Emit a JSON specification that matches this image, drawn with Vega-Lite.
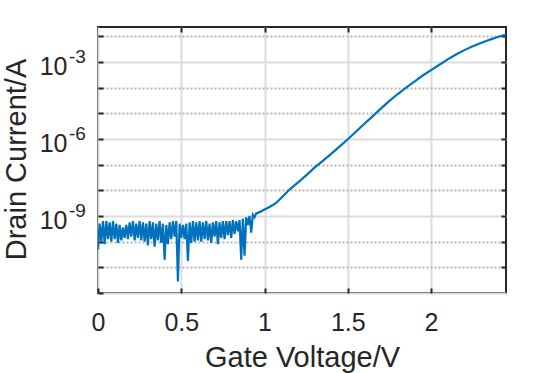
{
  "$schema": "https://vega.github.io/schema/vega-lite/v6.json",
  "autosize": {"type": "none"},
  "padding": {"left": 98, "top": 27, "right": 54, "bottom": 80},
  "width": 408,
  "height": 266,
  "background": "#ffffff",
  "config": {
    "view": {"stroke": "#262626", "strokeWidth": 2},
    "font": "Liberation Sans",
    "axis": {"labelFont": "Liberation Sans", "titleFont": "Liberation Sans", "labelColor": "#262626", "titleColor": "#262626", "titleFontWeight": "normal"}
  },
  "datasets": {
    "iv": [
      {"V": 0.00, "I": 5.01e-11}, {"V": 0.01, "I": 5.01e-10}, {"V": 0.02, "I": 1.0e-10}, {"V": 0.03, "I": 6.31e-10},
      {"V": 0.04, "I": 7.94e-11}, {"V": 0.05, "I": 6.31e-10}, {"V": 0.06, "I": 1.26e-10}, {"V": 0.07, "I": 5.62e-10},
      {"V": 0.08, "I": 1.0e-10}, {"V": 0.09, "I": 6.31e-10}, {"V": 0.10, "I": 1.26e-10}, {"V": 0.11, "I": 5.01e-10},
      {"V": 0.12, "I": 8.91e-11}, {"V": 0.13, "I": 4.47e-10}, {"V": 0.14, "I": 1.12e-10}, {"V": 0.15, "I": 3.55e-10},
      {"V": 0.16, "I": 1.41e-10}, {"V": 0.17, "I": 4.47e-10}, {"V": 0.18, "I": 1.26e-10}, {"V": 0.19, "I": 5.62e-10},
      {"V": 0.20, "I": 1.58e-10}, {"V": 0.21, "I": 6.31e-10}, {"V": 0.22, "I": 1.12e-10}, {"V": 0.23, "I": 5.01e-10},
      {"V": 0.24, "I": 1.41e-10}, {"V": 0.25, "I": 6.31e-10}, {"V": 0.26, "I": 1.12e-10}, {"V": 0.27, "I": 5.62e-10},
      {"V": 0.28, "I": 1.0e-10}, {"V": 0.29, "I": 5.01e-10}, {"V": 0.30, "I": 7.08e-11}, {"V": 0.31, "I": 6.31e-10},
      {"V": 0.32, "I": 1.26e-10}, {"V": 0.33, "I": 5.62e-10}, {"V": 0.34, "I": 6.31e-11}, {"V": 0.35, "I": 5.01e-10},
      {"V": 0.36, "I": 1.12e-10}, {"V": 0.37, "I": 6.31e-10}, {"V": 0.38, "I": 8.91e-11}, {"V": 0.39, "I": 5.01e-10},
      {"V": 0.40, "I": 2.0e-11}, {"V": 0.41, "I": 4.47e-10}, {"V": 0.42, "I": 7.94e-11}, {"V": 0.43, "I": 5.62e-10},
      {"V": 0.44, "I": 1.26e-10}, {"V": 0.45, "I": 6.31e-10}, {"V": 0.46, "I": 1.58e-10}, {"V": 0.47, "I": 6.31e-10},
      {"V": 0.48, "I": 2.82e-12}, {"V": 0.49, "I": 5.01e-10}, {"V": 0.50, "I": 1.41e-10}, {"V": 0.51, "I": 4.47e-10},
      {"V": 0.52, "I": 1.26e-10}, {"V": 0.53, "I": 5.01e-10}, {"V": 0.54, "I": 1.78e-11}, {"V": 0.55, "I": 5.62e-10},
      {"V": 0.56, "I": 8.91e-11}, {"V": 0.57, "I": 6.31e-10}, {"V": 0.58, "I": 1.0e-10}, {"V": 0.59, "I": 5.62e-10},
      {"V": 0.60, "I": 1.12e-10}, {"V": 0.61, "I": 6.31e-10}, {"V": 0.62, "I": 1.0e-10}, {"V": 0.63, "I": 5.62e-10},
      {"V": 0.64, "I": 1.26e-10}, {"V": 0.65, "I": 6.31e-10}, {"V": 0.66, "I": 1.12e-10}, {"V": 0.67, "I": 5.01e-10},
      {"V": 0.68, "I": 8.91e-11}, {"V": 0.69, "I": 5.62e-10}, {"V": 0.70, "I": 1.58e-10}, {"V": 0.71, "I": 6.31e-10},
      {"V": 0.72, "I": 7.94e-11}, {"V": 0.73, "I": 5.62e-10}, {"V": 0.74, "I": 1.41e-10}, {"V": 0.75, "I": 6.31e-10},
      {"V": 0.76, "I": 1.26e-10}, {"V": 0.77, "I": 6.31e-10}, {"V": 0.78, "I": 1.78e-10}, {"V": 0.79, "I": 6.31e-10},
      {"V": 0.80, "I": 1.41e-10}, {"V": 0.81, "I": 7.08e-10}, {"V": 0.82, "I": 2.0e-10}, {"V": 0.83, "I": 6.31e-10},
      {"V": 0.84, "I": 2.51e-10}, {"V": 0.85, "I": 7.08e-10}, {"V": 0.86, "I": 2.0e-11}, {"V": 0.87, "I": 7.94e-10},
      {"V": 0.88, "I": 2.82e-11}, {"V": 0.89, "I": 8.91e-10}, {"V": 0.90, "I": 4.47e-10}, {"V": 0.91, "I": 1.0e-9},
      {"V": 0.92, "I": 2.24e-10}, {"V": 0.93, "I": 1.12e-9}, {"V": 0.94, "I": 8.91e-10}, {"V": 0.95, "I": 1.26e-9},
      {"V": 0.97, "I": 1.41e-9}, {"V": 1.00, "I": 1.78e-9}, {"V": 1.03, "I": 2.24e-9}, {"V": 1.07, "I": 3.24e-9},
      {"V": 1.10, "I": 5.01e-9}, {"V": 1.15, "I": 1.07e-8}, {"V": 1.20, "I": 2.0e-8}, {"V": 1.25, "I": 3.80e-8},
      {"V": 1.30, "I": 7.59e-8}, {"V": 1.35, "I": 1.41e-7}, {"V": 1.40, "I": 2.63e-7}, {"V": 1.45, "I": 5.01e-7},
      {"V": 1.50, "I": 9.77e-7}, {"V": 1.55, "I": 1.95e-6}, {"V": 1.60, "I": 3.89e-6}, {"V": 1.65, "I": 7.76e-6},
      {"V": 1.70, "I": 1.55e-5}, {"V": 1.75, "I": 3.02e-5}, {"V": 1.80, "I": 5.62e-5}, {"V": 1.85, "I": 1.0e-4},
      {"V": 1.90, "I": 1.70e-4}, {"V": 1.95, "I": 2.95e-4}, {"V": 2.00, "I": 4.79e-4}, {"V": 2.05, "I": 7.76e-4},
      {"V": 2.10, "I": 1.26e-3}, {"V": 2.15, "I": 1.95e-3}, {"V": 2.20, "I": 2.88e-3}, {"V": 2.25, "I": 4.07e-3},
      {"V": 2.30, "I": 5.50e-3}, {"V": 2.35, "I": 7.24e-3}, {"V": 2.40, "I": 9.33e-3}, {"V": 2.45, "I": 1.17e-2}
    ],
    "exps": [
      {"x0": 0, "v": 0.001, "e": "-3"},
      {"x0": 0, "v": 0.000001, "e": "-6"},
      {"x0": 0, "v": 0.000000001, "e": "-9"}
    ]
  },
  "layer": [
    {
      "data": {"name": "iv"},
      "mark": {"type": "line", "color": "#0072BD", "strokeWidth": 2.2, "clip": true},
      "encoding": {
        "x": {
          "field": "V", "type": "quantitative",
          "scale": {"domain": [0, 2.45], "nice": false, "zero": false},
          "axis": {
            "orient": "bottom",
            "values": [0, 0.5, 1, 1.5, 2],
            "format": "~g",
            "title": "Gate Voltage/V",
            "titleFontSize": 29,
            "titlePadding": 8,
            "labelFontSize": 25,
            "labelPadding": 22,
            "labelFlush": false,
            "domain": false,
            "tickSize": -5,
            "tickColor": "#262626",
            "tickWidth": 2,
            "grid": true,
            "gridColor": "#dcdcdc",
            "gridWidth": 2
          }
        },
        "y": {
          "field": "I", "type": "quantitative",
          "scale": {"type": "log", "domain": [1e-12, 0.0229], "nice": false},
          "axis": {
            "orient": "left",
            "values": [1e-12, 1e-11, 1e-10, 1e-9, 1e-8, 1e-7, 1e-6, 1e-5, 1e-4, 1e-3, 1e-2],
            "labelExpr": "(round(log(datum.value)/LN10) % 3 == 0 && datum.value > 1e-11 && datum.value < 1e-2) ? '10' : ''",
            "labelFontSize": 25,
            "labelPadding": 36,
            "labelOffset": 5,
            "labelFlush": false,
            "labelOverlap": false,
            "title": "Drain Current/A",
            "titleFontSize": 29,
            "titleAngle": 270,
            "titleX": -73,
            "titleY": 132,
            "titleAlign": "center",
            "titleBaseline": "alphabetic",
            "domain": false,
            "tickSize": -5,
            "tickColor": "#262626",
            "tickWidth": 2,
            "grid": true,
            "gridWidth": 2,
            "gridColor": {"condition": {"test": "round(log(datum.value)/LN10) % 3 == 0", "value": "#dcdcdc"}, "value": "#b4b4b4"},
            "gridDash": {"condition": {"test": "round(log(datum.value)/LN10) % 3 == 0", "value": []}, "value": [2, 2]}
          }
        }
      }
    },
    {
      "data": {"name": "exps"},
      "mark": {"type": "text", "align": "left", "baseline": "alphabetic", "dx": -29, "dy": 1, "fontSize": 19, "color": "#262626", "font": "Liberation Sans", "clip": false},
      "encoding": {
        "x": {"field": "x0", "type": "quantitative", "axis": {"orient": "top", "values": [0.5, 1, 1.5, 2], "labels": false, "title": null, "grid": false, "domain": false, "tickSize": -5, "tickColor": "#262626", "tickWidth": 2}},
        "y": {"field": "v", "type": "quantitative", "axis": {"orient": "right", "values": [1e-11, 1e-10, 1e-9, 1e-8, 1e-7, 1e-6, 1e-5, 1e-4, 1e-3, 1e-2], "labels": false, "title": null, "grid": false, "domain": false, "tickSize": -5, "tickColor": "#262626", "tickWidth": 2}},
        "text": {"field": "e", "type": "nominal"}
      }
    }
  ],
  "resolve": {"axis": {"x": "independent", "y": "independent"}}
}
